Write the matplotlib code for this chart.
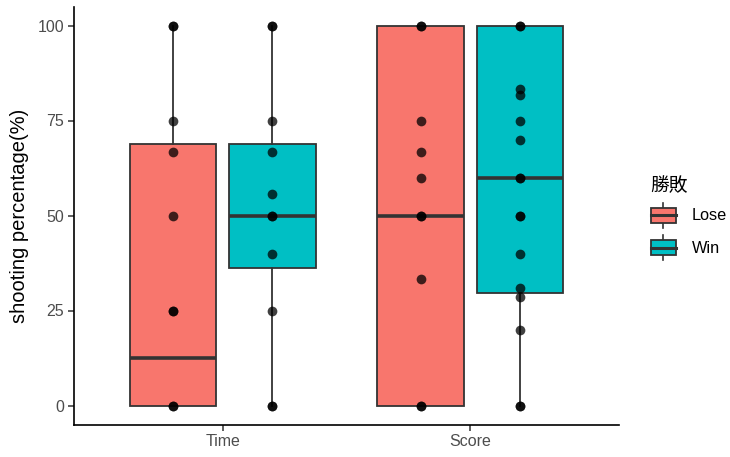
import matplotlib
matplotlib.use('Agg')
import matplotlib.pyplot as plt
from matplotlib.legend_handler import HandlerBase
from matplotlib.patches import Rectangle, Patch
from matplotlib.lines import Line2D

plt.rcParams['font.family'] = ['Liberation Sans', 'Noto Sans CJK TC', 'DejaVu Sans']

categories = ['Time', 'Score']
groups = ['Lose', 'Win']
fill_colors = ['#F8766D', '#00BFC4']

# box statistics, one value per category (Time, Score)
lose_whislo = [0, 0]
lose_q1 = [0, 0]
lose_med = [12.5, 50]
lose_q3 = [68.75, 100]
lose_whishi = [100, 100]

win_whislo = [0, 0]
win_q1 = [36.1, 29.6]
win_med = [50, 60]
win_q3 = [68.75, 100]
win_whishi = [100, 100]

# individual observations (repeats drawn on top of each other)
lose_time_pts = [0, 0, 25, 25, 50, 66.7, 75, 100, 100]
win_time_pts = [0, 0, 25, 40, 50, 50, 55.6, 66.7, 75, 100, 100]
lose_score_pts = [0, 0, 33.3, 50, 50, 60, 66.7, 75, 100, 100]
win_score_pts = [0, 0, 20, 28.6, 30.8, 40, 50, 50, 60, 60, 70, 75, 81.8, 83.3, 100, 100]

yticks = [0, 25, 50, 75, 100]


class BoxKeyHandler(HandlerBase):
    # ggplot-like boxplot legend key
    def create_artists(self, legend, orig_handle, xd, yd, w, h, fontsize, trans):
        x0, y0 = -xd, -yd
        bh = h * 0.58
        by = y0 + (h - bh) / 2
        fc = orig_handle.get_facecolor()
        lc = '#333333'
        rect = Rectangle((x0, by), w, bh, facecolor=fc, edgecolor=lc, lw=1.3, transform=trans)
        med = Line2D([x0, x0 + w], [y0 + h / 2] * 2, color=lc, lw=2.2, transform=trans)
        lo = Line2D([x0 + w / 2] * 2, [y0, by], color=lc, lw=1.2, transform=trans)
        hi = Line2D([x0 + w / 2] * 2, [by + bh, y0 + h], color=lc, lw=1.2, transform=trans)
        return [lo, hi, rect, med]


def make_stats(wlo, q1, med, q3, whi):
    return [dict(whislo=a, q1=b, med=c, q3=d, whishi=e, fliers=[])
            for a, b, c, d, e in zip(wlo, q1, med, q3, whi)]


fig = plt.figure(figsize=(7.3, 4.57), dpi=100)
ax = fig.add_axes([74 / 730, 1 - 424.5 / 457, (619 - 74) / 730, (424.5 - 6.5) / 457])

base = [1, 2]
offset = 0.2
all_stats = [make_stats(lose_whislo, lose_q1, lose_med, lose_q3, lose_whishi),
             make_stats(win_whislo, win_q1, win_med, win_q3, win_whishi)]
all_pts = [[lose_time_pts, lose_score_pts], [win_time_pts, win_score_pts]]

for g, (stats, pts, fc) in enumerate(zip(all_stats, all_pts, fill_colors)):
    pos = [b + (g - 0.5) * 2 * offset for b in base]
    ax.bxp(stats, positions=pos, widths=0.35, patch_artist=True,
           showfliers=False, showcaps=False,
           boxprops=dict(facecolor=fc, edgecolor='#333333', linewidth=1.3),
           medianprops=dict(color='#333333', linewidth=2.6),
           whiskerprops=dict(color='#333333', linewidth=1.3))
    for p, vals in zip(pos, pts):
        ax.plot([p] * len(vals), vals, 'o', color='black', alpha=0.75,
                markersize=7, markeredgewidth=0, zorder=5)

ax.set_xlim(0.4, 2.6)
ax.set_ylim(-5, 105)
ax.set_xticks(base)
ax.set_xticklabels(categories)
ax.set_yticks(yticks)
ax.set_yticklabels([str(v) for v in yticks])
ax.tick_params(labelsize=11.5, labelcolor='#4D4D4D', length=4, width=1.1, color='#333333', pad=3)
for s in ['top', 'right']:
    ax.spines[s].set_visible(False)
for s in ['left', 'bottom']:
    ax.spines[s].set_linewidth(1.2)
ax.set_ylabel('shooting percentage(%)', fontsize=14.5, labelpad=6)

handles = [Patch(facecolor=c) for c in fill_colors]
leg = fig.legend(handles, groups, title='勝敗', loc='upper left',
                 bbox_to_anchor=(636 / 730, 1 - 163 / 457), frameon=False,
                 fontsize=11.7, title_fontsize=13.5, handlelength=1.55,
                 handleheight=2.0, labelspacing=0.45, handletextpad=1.0,
                 handler_map={Patch: BoxKeyHandler()})
leg._legend_box.align = 'left'

fig.savefig('out.png', dpi=100)
